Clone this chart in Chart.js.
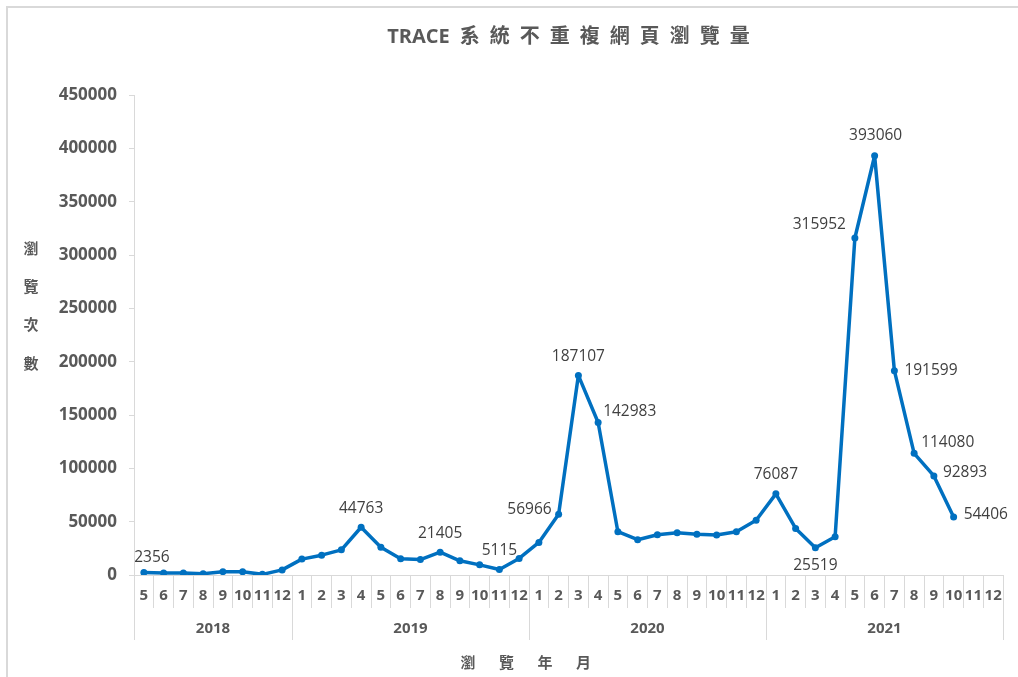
<!DOCTYPE html>
<html>
<head>
<meta charset="utf-8">
<script src="https://cdn.jsdelivr.net/npm/chart.js@4.4.0/dist/chart.umd.min.js"></script>
<style>
  html, body { margin: 0; padding: 0; background: #fff; }
  #frame { position: absolute; left: 6px; top: 6px; width: 1020px; height: 680px; border-top: 2px solid #d9d9d9; border-left: 2px solid #d9d9d9; }
  #box { position: absolute; left: 0; top: 0; width: 1018px; height: 677px; }
</style>
</head>
<body>
<div id="frame"></div>
<div id="box"><canvas id="views-chart"></canvas></div>
<script>
// 年份與月份
const years = ["2018", "2019", "2020", "2021"];
const months2018 = ["5", "6", "7", "8", "9", "10", "11", "12"];
const monthsFull = ["1", "2", "3", "4", "5", "6", "7", "8", "9", "10", "11", "12"];

// 每月不重複網頁瀏覽次數 (沒有標註的點是從圖上估的)
const views2018 = [2356, 1900, 1800, 1200, 3100, 3000, 600, 4800];
const views2019 = [14900, 18600, 23600, 44763, 26100, 15200, 14500, 21405, 13300, 9500, 5115, 15500];
const views2020 = [30500, 56966, 187107, 142983, 40600, 33100, 37800, 39700, 38100, 37500, 40600, 51300];
const views2021 = [76087, 43700, 25519, 35900, 315952, 393060, 191599, 114080, 92893, 54406, null, null];

// y 軸刻度
const yMin = 0;
const yMax = 450000;
const yStep = 50000;

// 組合資料
const monthGroups = [months2018, monthsFull, monthsFull, monthsFull];
const monthLabels = [].concat(...monthGroups);
const views = [].concat(views2018, views2019, views2020, views2021);

// 年份分隔線和年份中心位置 (以月份索引表示)
const yearTicks = [];
const yearNames = {};
let start = 0;
monthGroups.forEach(function (group, k) {
  yearTicks.push(start - 0.5);
  yearTicks.push(start + (group.length - 1) / 2);
  yearNames[start + (group.length - 1) / 2] = years[k];
  start += group.length;
});
yearTicks.push(start - 0.5);

// 有數值標籤的點: 索引, 對齊, 位移
const labelSpots = [
  { i: 0, align: "center", dx: 8, dy: -15 },
  { i: 11, align: "center", dx: 0, dy: -19 },
  { i: 15, align: "center", dx: 0, dy: -19 },
  { i: 18, align: "center", dx: 0, dy: -19 },
  { i: 21, align: "right", dx: -7, dy: -5 },
  { i: 22, align: "center", dx: 0, dy: -19 },
  { i: 23, align: "left", dx: 5, dy: -11 },
  { i: 32, align: "center", dx: 0, dy: -19 },
  { i: 34, align: "center", dx: 0, dy: 18 },
  { i: 36, align: "right", dx: -9, dy: -13 },
  { i: 37, align: "center", dx: 1, dy: -20 },
  { i: 38, align: "left", dx: 10, dy: 0 },
  { i: 39, align: "left", dx: 7, dy: -11 },
  { i: 40, align: "left", dx: 9, dy: -3 },
  { i: 41, align: "left", dx: 10, dy: -2 },
];

const grey = "#595959";
const lineGrey = "#d9d9d9";

// 畫數值標籤
const valueLabels = {
  id: "valueLabels",
  afterDatasetsDraw(chart) {
    const ctx = chart.ctx;
    const meta = chart.getDatasetMeta(0);
    const values = chart.data.datasets[0].data;
    ctx.save();
    ctx.font = "15.5px 'Open Sans', sans-serif";
    ctx.fillStyle = "#404040";
    ctx.textBaseline = "middle";
    labelSpots.forEach(function (spot) {
      const pt = meta.data[spot.i];
      ctx.textAlign = spot.align;
      ctx.fillText(String(values[spot.i]), pt.x + spot.dx, pt.y + spot.dy);
    });
    ctx.restore();
  },
};

// 座標軸標題 (直排的 y 軸標題)
const axisTitles = {
  id: "axisTitles",
  afterDraw(chart) {
    const ctx = chart.ctx;
    ctx.save();
    ctx.font = "bold 15px 'Noto Sans CJK TC', sans-serif";
    ctx.fillStyle = grey;
    ctx.textAlign = "center";
    ctx.textBaseline = "middle";
    ["瀏", "覽", "次", "數"].forEach(function (ch, k) {
      ctx.fillText(ch, 31, 248 + k * 38.3);
    });
    ["瀏", "覽", "年", "月"].forEach(function (ch, k) {
      ctx.fillText(ch, 468 + k * 38.5, 662);
    });
    ctx.restore();
  },
};

Chart.defaults.font.family = "'Open Sans', 'Noto Sans CJK TC', sans-serif";

const ctx = document.getElementById("views-chart").getContext("2d");
const viewsChart = new Chart(ctx, {
  type: "line",
  data: {
    labels: monthLabels,
    datasets: [
      {
        label: "不重複網頁瀏覽量",
        data: views,
        borderColor: "#0070C0",
        backgroundColor: "#0070C0",
        borderWidth: 3.5,
        borderJoinStyle: "round",
        borderCapStyle: "round",
        pointRadius: 3.5,
        pointBorderWidth: 0,
        pointBackgroundColor: "#0070C0",
        tension: 0,
        fill: false,
      },
    ],
  },
  options: {
    responsive: true,
    maintainAspectRatio: false,
    animation: false,
    layout: { padding: { left: 34, right: 15, top: 0, bottom: 37 } },
    plugins: {
      legend: { display: false },
      tooltip: { enabled: false },
      title: {
        display: true,
        fullSize: false,
        text: "TRACE\u2002系\u2002統\u2002不\u2002重\u2002複\u2002網\u2002頁\u2002瀏\u2002覽\u2002量",
        color: grey,
        font: { size: 20, weight: "bold" },
        padding: { top: 25, bottom: 46 },
      },
    },
    scales: {
      x: {
        type: "category",
        position: "bottom",
        weight: 0,
        offset: true,
        afterFit(scale) { scale.height = 33; },
        border: { color: lineGrey },
        grid: { offset: true, drawOnChartArea: false, tickLength: 33, color: lineGrey },
        ticks: {
          autoSkip: false,
          maxRotation: 0,
          padding: -21,
          color: grey,
          font: { size: 15, weight: "bold" },
        },
      },
      x2: {
        type: "linear",
        position: "bottom",
        weight: 1,
        min: -0.5,
        max: monthLabels.length - 0.5,
        afterBuildTicks(scale) {
          scale.ticks = yearTicks.map(function (v) { return { value: v }; });
        },
        afterFit(scale) { scale.height = 32; },
        border: { display: false },
        grid: {
          drawOnChartArea: false,
          tickLength: 32,
          color: function (c) {
            return c.tick && yearNames[c.tick.value] ? "rgba(0,0,0,0)" : lineGrey;
          },
        },
        ticks: {
          autoSkip: false,
          maxRotation: 0,
          padding: -20,
          color: grey,
          font: { size: 15, weight: "bold" },
          callback: function (v) { return yearNames[v] || ""; },
        },
      },
      y: {
        min: yMin,
        max: yMax,
        afterFit(scale) { scale.width = 100; },
        border: { color: lineGrey },
        grid: { drawOnChartArea: false, tickLength: 5, color: lineGrey },
        ticks: {
          stepSize: yStep,
          padding: 12,
          color: grey,
          font: { size: 17, weight: "bold" },
          callback: function (v) { return String(v); },
        },
      },
    },
  },
  plugins: [valueLabels, axisTitles],
});
</script>
</body>
</html>
